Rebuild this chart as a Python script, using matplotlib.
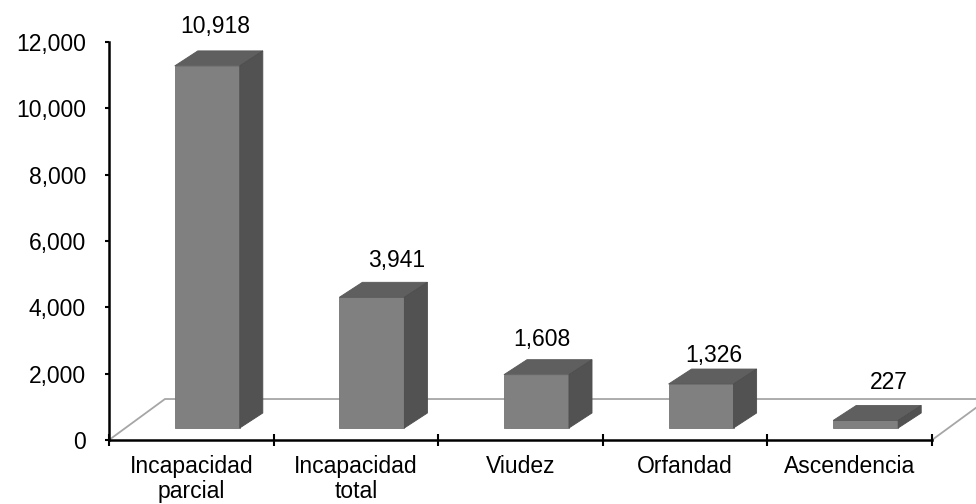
import matplotlib
matplotlib.use("Agg")
import matplotlib.pyplot as plt
from matplotlib.patches import Polygon
from matplotlib.ticker import FuncFormatter

categories = ["Incapacidad\nparcial", "Incapacidad\ntotal", "Viudez", "Orfandad", "Ascendencia"]
values = [10918, 3941, 1608, 1326, 227]
value_labels = ["10,918", "3,941", "1,608", "1,326", "227"]

# label nudges (points) to mimic where the labels sit in the original
label_dx = [6, 18, 4, 9, 17]
label_dy = [13, 11, 9.5, 5, 12]

plt.rcParams['font.family'] = ['Liberation Sans', 'DejaVu Sans']

fig = plt.figure(figsize=(9.76, 5.04), dpi=100)
ax = fig.add_axes([109 / 976, 64 / 504, 823 / 976, 398 / 504])
ax.set_xlim(-0.5, 4.5)
ax.set_ylim(0, 12000)

# fake 3d offsets in data units
floor_dx, floor_dy = 0.34, 1236
front_dx, front_dy = 0.097, 362
depth_dx, depth_dy = 0.14, 452
bar_w = 0.395

# floor outline
n = len(values)
floor = [(-0.5, 0), (-0.5 + floor_dx, floor_dy), (n - 0.5 + floor_dx, floor_dy), (n - 0.5, 0)]
ax.add_patch(Polygon(floor, closed=False, fill=False, edgecolor="#a6a6a6",
                     linewidth=1.3, clip_on=False, zorder=1))

for i, v in enumerate(values):
    x0 = i + front_dx - bar_w / 2
    x1 = x0 + bar_w
    y0 = front_dy
    y1 = front_dy + v
    ax.bar(x0, v, width=bar_w, bottom=y0, align="edge", color="#808080",
           edgecolor="#747474", linewidth=0.6, zorder=3)
    top = [(x0, y1), (x0 + depth_dx, y1 + depth_dy), (x1 + depth_dx, y1 + depth_dy), (x1, y1)]
    ax.add_patch(Polygon(top, closed=True, facecolor="#5f5f5f", edgecolor="#595959",
                         linewidth=0.6, zorder=3, clip_on=False))
    side = [(x1, y0), (x1, y1), (x1 + depth_dx, y1 + depth_dy), (x1 + depth_dx, y0 + depth_dy)]
    ax.add_patch(Polygon(side, closed=True, facecolor="#525252", edgecolor="#4d4d4d",
                         linewidth=0.6, zorder=3, clip_on=False))
    ax.annotate(value_labels[i], (i + front_dx, y1 + depth_dy),
                xytext=(label_dx[i], label_dy[i]), textcoords="offset points",
                ha="center", va="baseline", fontsize=16.5, color="black",
                annotation_clip=False)

for s in ["top", "right"]:
    ax.spines[s].set_visible(False)
for s in ["left", "bottom"]:
    ax.spines[s].set_linewidth(1.8)
    ax.spines[s].set_zorder(4)

ax.set_yticks(range(0, 12001, 2000))
ax.yaxis.set_major_formatter(FuncFormatter(lambda v, p: f"{int(v):,}"))
ax.tick_params(axis="y", direction="out", length=3, width=1.5, pad=13.5, labelsize=16.5)

ax.set_xticks(range(n))
ax.set_xticklabels(categories, linespacing=1.1)
ax.set_xticks([i - 0.5 for i in range(n + 1)], minor=True)
ax.tick_params(axis="x", which="major", length=0, pad=11, labelsize=16.5)
ax.tick_params(axis="x", which="minor", direction="inout", length=8, width=1.5)

fig.savefig("out.png", dpi=100)
